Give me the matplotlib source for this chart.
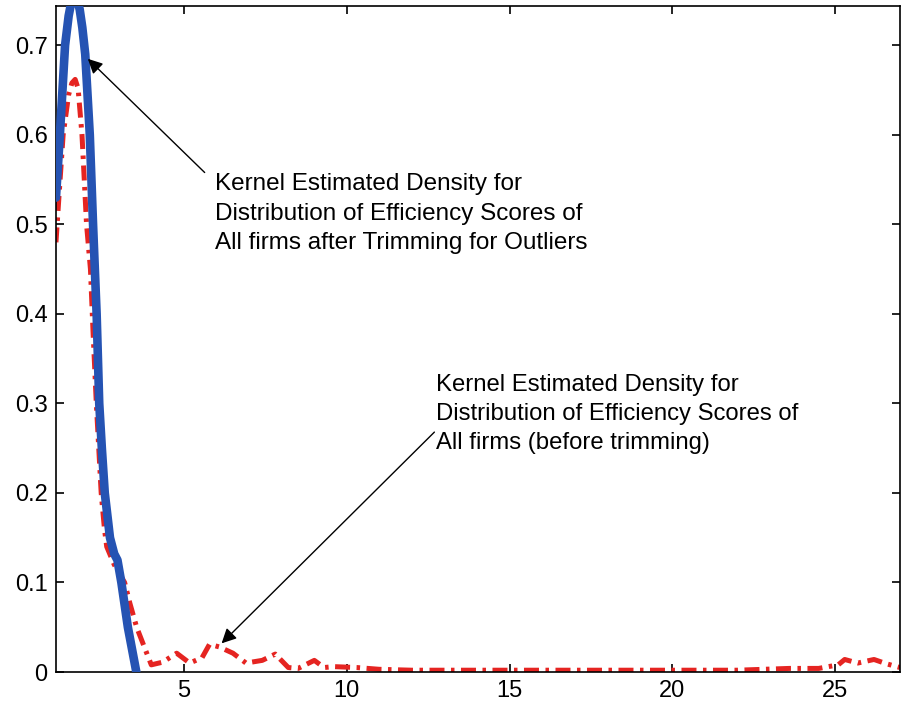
import numpy as np
import matplotlib
matplotlib.use('agg')
import matplotlib.pyplot as plt

# kernel density, trimmed sample (blue)
x_trim = [1.06, 1.18, 1.34, 1.45, 1.54, 1.63, 1.71, 1.79, 1.87, 1.96, 2.10,
          2.20, 2.31, 2.39, 2.47, 2.56, 2.72, 2.85, 2.95, 3.07, 3.27, 3.53]
y_trim = [0.53, 0.60, 0.70, 0.733, 0.750, 0.756, 0.752, 0.740, 0.72, 0.69, 0.60,
          0.50, 0.40, 0.30, 0.25, 0.20, 0.15, 0.132, 0.125, 0.10, 0.05, 0.0]

# kernel density, all firms (red)
x_all = [1.06, 1.15, 1.28, 1.45, 1.55, 1.65, 1.74, 1.86, 2.00, 2.12, 2.20, 2.30,
         2.45, 2.55, 2.62, 2.85, 3.17, 3.33, 3.54, 3.85, 3.99, 4.34, 4.77,
         5.17, 5.55, 5.78, 6.08, 6.50, 6.90, 7.40, 7.80, 8.20, 8.50, 9.00,
         9.30, 9.60, 10.3, 11.0, 12.0, 14.0, 16.0, 18.0, 20.0, 22.0, 23.6,
         24.5, 25.1, 25.3, 25.7, 26.2, 26.6, 27.0]
y_all = [0.48, 0.53, 0.60, 0.645, 0.658, 0.662, 0.652, 0.60, 0.50, 0.45, 0.38, 0.30,
         0.20, 0.16, 0.14, 0.12, 0.10, 0.077, 0.05, 0.021, 0.008, 0.011, 0.021,
         0.010, 0.016, 0.031, 0.028, 0.021, 0.010, 0.013, 0.020, 0.005, 0.004, 0.013,
         0.005, 0.006, 0.005, 0.003, 0.002, 0.002, 0.002, 0.002, 0.002, 0.002, 0.004,
         0.004, 0.008, 0.014, 0.010, 0.014, 0.009, 0.005]

xticks = [5, 10, 15, 20, 25]
yticks = [0, 0.1, 0.2, 0.3, 0.4, 0.5, 0.6, 0.7]
ylabels = ['0', '0.1', '0.2', '0.3', '0.4', '0.5', '0.6', '0.7']

label_trim = ('Kernel Estimated Density for\nDistribution of Efficiency Scores of\n'
              'All firms after Trimming for Outliers')
label_all = ('Kernel Estimated Density for\nDistribution of Efficiency Scores of\n'
             'All firms (before trimming)')

plt.rcParams['font.family'] = ['Liberation Sans', 'DejaVu Sans']

fig = plt.figure(figsize=(9.07, 7.07), dpi=100)
ax = fig.add_axes([0.0617, 0.0495, 0.9306, 0.942])

ax.plot(x_all, y_all, color='#e52421', lw=3.6,
        linestyle=(0, (3, 1.3, 0.7, 1.3)), zorder=2)
ax.plot(x_trim, y_trim, color='#2553b3', lw=6.2, solid_capstyle='round',
        solid_joinstyle='round', zorder=3)

ax.set_xlim(1.06, 27.0)
ax.set_ylim(0, 0.744)
ax.set_xticks(xticks)
ax.set_yticks(yticks)
ax.set_yticklabels(ylabels)
ax.tick_params(direction='in', top=True, right=True, length=6, width=1.2,
               labelsize=17, pad=6)
for s in ax.spines.values():
    s.set_linewidth(1.2)

arrow = dict(arrowstyle='-|>', color='black', lw=1.0, mutation_scale=22,
             shrinkA=0, shrinkB=0)
ax.text(5.95, 0.557, label_trim, fontsize=17.5, ha='left', va='top', linespacing=1.42)
ax.annotate('', xy=(2.04, 0.685), xytext=(5.63, 0.558), arrowprops=arrow)
ax.text(12.75, 0.333, label_all, fontsize=17.2, ha='left', va='top', linespacing=1.42)
ax.annotate('', xy=(6.15, 0.032), xytext=(12.69, 0.268), arrowprops=arrow)

plt.savefig('out.png', dpi=100)
plt.close()
